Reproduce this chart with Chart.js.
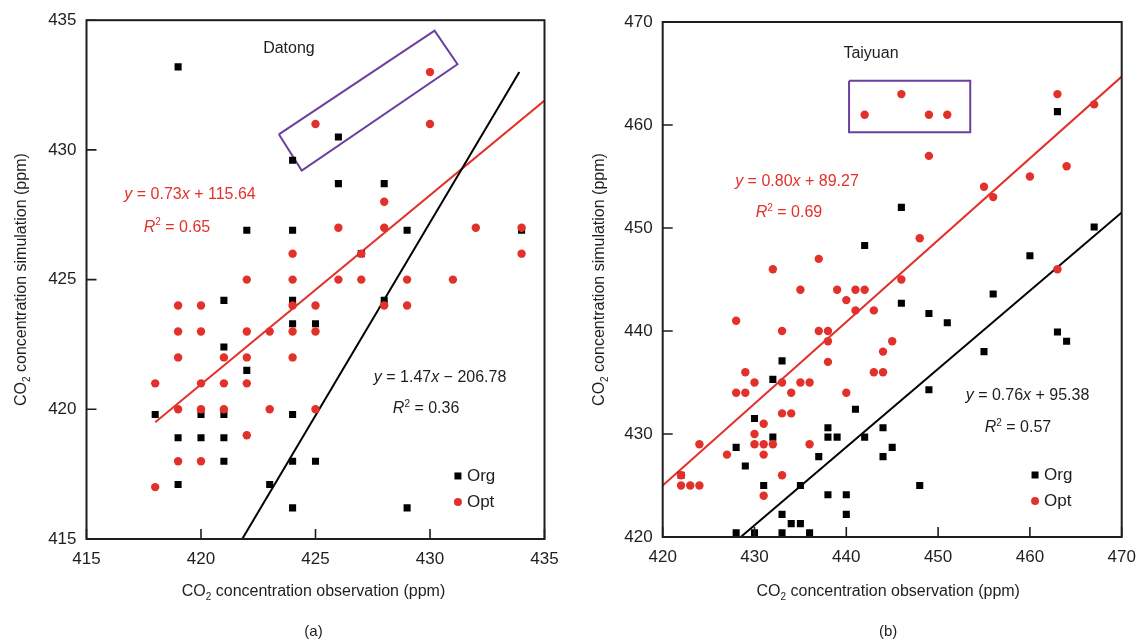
<!DOCTYPE html>
<html>
<head>
<meta charset="utf-8">
<script src="https://cdn.jsdelivr.net/npm/chart.js@4.4.1/dist/chart.umd.min.js"></script>
<style>
  body { margin: 0; background: #fff; overflow: hidden; }
  .panel { position: absolute; top: 0; height: 640px; }
  #panelA { left: 0; width: 568px; }
  #panelB { left: 568px; width: 569px; }
</style>
</head>
<body>
<div class="panel" id="panelA"><canvas id="chartA" width="568" height="640"></canvas></div>
<div class="panel" id="panelB"><canvas id="chartB" width="569" height="640"></canvas></div>
<script>
/* ~~~~~~~~~~ DATA ~~~~~~~~~~ */

// Datong: [observation, simulation]
const datongOrg = [
  [419, 433.2], [424, 429.6], [426, 430.5], [426, 428.7], [428, 428.7],
  [422, 426.9], [424, 426.9], [429, 426.9], [434, 426.9], [427, 426.0],
  [421, 424.2], [424, 424.2], [428, 424.2], [424, 423.3], [425, 423.3],
  [421, 422.4], [422, 421.5], [418, 419.8], [420, 419.8], [421, 419.8],
  [424, 419.8], [419, 418.9], [420, 418.9], [421, 418.9], [421, 418.0],
  [424, 418.0], [425, 418.0], [419, 417.1], [423, 417.1], [424, 416.2],
  [429, 416.2]
];
const datongOpt = [
  [430, 433], [425, 431], [430, 431], [428, 428], [426, 427], [428, 427],
  [432, 427], [434, 427], [424, 426], [427, 426], [434, 426], [422, 425],
  [424, 425], [426, 425], [427, 425], [429, 425], [431, 425], [419, 424],
  [420, 424], [424, 424], [425, 424], [428, 424], [429, 424], [419, 423],
  [420, 423], [422, 423], [423, 423], [424, 423], [425, 423], [419, 422],
  [421, 422], [422, 422], [424, 422], [418, 421], [420, 421], [421, 421],
  [422, 421], [419, 420], [420, 420], [421, 420], [423, 420], [425, 420],
  [422, 419], [419, 418], [420, 418], [418, 417]
];
const datongOrgFit = [[421.8, 415], [433.9, 433.0]];
const datongOptFit = [[418, 419.5], [435, 431.9]];
const datongBox = [[423.4, 430.6], [430.2, 434.6], [431.2, 433.3], [424.4, 429.2], [423.4, 430.6]];

// Taiyuan: [observation, simulation]
const taiyuanOrg = [
  [463, 461.3], [446, 452.0], [442, 448.3], [467, 450.1], [460, 447.3],
  [456, 443.6], [446, 442.7], [449, 441.7], [451, 440.8], [463, 439.9],
  [464, 439.0], [455, 438.0], [433, 437.1], [432, 435.3], [449, 434.3],
  [430, 431.5], [441, 432.4], [438, 430.6], [444, 430.6], [438, 429.7],
  [439, 429.7], [442, 429.7], [432, 429.7], [445, 428.7], [428, 428.7],
  [437, 427.8], [444, 427.8], [429, 426.9], [422, 426.0], [431, 425.0],
  [435, 425.0], [448, 425.0], [438, 424.1], [440, 424.1], [433, 422.2],
  [440, 422.2], [434, 421.3], [435, 421.3], [428, 420.4], [430, 420.4],
  [433, 420.4], [436, 420.4]
];
const taiyuanOpt = [
  [442, 461], [446, 463], [449, 461], [451, 461], [463, 463], [467, 462],
  [449, 457], [464, 456], [460, 455], [455, 454], [456, 453], [448, 449],
  [446, 445], [463, 446], [432, 446], [437, 447], [435, 444], [439, 444],
  [441, 444], [442, 444], [440, 443], [441, 442], [443, 442], [428, 441],
  [433, 440], [437, 440], [438, 440], [438, 439], [445, 439], [444, 438],
  [438, 437], [429, 436], [443, 436], [444, 436], [430, 435], [433, 435],
  [435, 435], [436, 435], [428, 434], [429, 434], [434, 434], [440, 434],
  [433, 432], [434, 432], [431, 431], [430, 430], [430, 429], [431, 429],
  [432, 429], [436, 429], [424, 429], [427, 428], [431, 428], [433, 426],
  [422, 426], [431, 424], [422, 425], [423, 425], [424, 425]
];
const taiyuanOrgFit = [[428.5, 420], [470, 451.5]];
const taiyuanOptFit = [[420, 425.0], [470, 464.7]];
const taiyuanBox = [[440.3, 464.3], [453.5, 464.3], [453.5, 459.3], [440.3, 459.3], [440.3, 464.3]];

/* ~~~~~~~~~~ STYLE ~~~~~~~~~~ */

const FONT = '"Liberation Sans", Arial, sans-serif';
const RED = '#e2312b';
const INK = '#1e1e1e';
const PURPLE = '#6b3fa0';

Chart.defaults.font.family = FONT;

const toPts = (arr) => arr.map(([x, y]) => ({ x, y }));

// draw text made of [text, style] parts, centred on x
function richText(ctx, parts, x, y, size, color) {
  const fontFor = (s) => (s === 'i' ? 'italic ' : '') +
    (s === 'sup' || s === 'sub' ? Math.round(size * 0.62) : size) + 'px ' + FONT;
  let w = 0;
  parts.forEach(([t, s]) => { ctx.font = fontFor(s); w += ctx.measureText(t).width; });
  let cx = x - w / 2;
  ctx.fillStyle = color;
  ctx.textBaseline = 'middle';
  ctx.textAlign = 'left';
  parts.forEach(([t, s]) => {
    ctx.font = fontFor(s);
    const dy = s === 'sup' ? -size * 0.32 : s === 'sub' ? size * 0.3 : 0;
    ctx.fillText(t, cx, y + dy);
    cx += ctx.measureText(t).width;
  });
}

const eq = (a, b) => [['y', 'i'], [' = ' + a, ''], ['x', 'i'], [' ' + b, '']];
const r2 = (v) => [['R', 'i'], ['2', 'sup'], [' = ' + v, '']];

const decor = (o) => ({
  id: 'decor',
  afterDatasetsDraw(chart) {
    const { ctx, chartArea: a, scales: { x, y } } = chart;
    ctx.save();
    ctx.strokeStyle = INK;
    ctx.lineWidth = 2;
    ctx.strokeRect(a.left, a.top, a.right - a.left, a.bottom - a.top);
    ctx.lineWidth = 1.6;
    ctx.beginPath();
    x.ticks.forEach(t => {
      const px = x.getPixelForValue(t.value);
      ctx.moveTo(px, a.bottom); ctx.lineTo(px, a.bottom - 10);
    });
    y.ticks.forEach(t => {
      const py = y.getPixelForValue(t.value);
      ctx.moveTo(a.left, py); ctx.lineTo(a.left + 10, py);
    });
    ctx.stroke();
    ctx.restore();
  },
  afterDraw(chart) {
    const { ctx, chartArea: a, scales: { x, y } } = chart;
    ctx.save();
    o.texts.forEach(t => {
      richText(ctx, t.parts, x.getPixelForValue(t.at[0]), y.getPixelForValue(t.at[1]), 16, t.color);
    });

    // legend
    const lx = x.getPixelForValue(o.legend[0]);
    const ly = y.getPixelForValue(o.legend[1]);
    ctx.fillStyle = '#000';
    ctx.fillRect(lx - 3.5, ly - 3.5, 7, 7);
    ctx.fillStyle = RED;
    ctx.beginPath();
    ctx.arc(lx, ly + 26, 4, 0, Math.PI * 2);
    ctx.fill();
    ctx.fillStyle = INK;
    ctx.font = '17px ' + FONT;
    ctx.textAlign = 'left';
    ctx.textBaseline = 'middle';
    ctx.fillText('Org', lx + 9, ly);
    ctx.fillText('Opt', lx + 9, ly + 26);

    // axis titles and caption
    const midX = (a.left + a.right) / 2;
    richText(ctx, [['CO', ''], ['2', 'sub'], [' concentration observation (ppm)', '']],
      midX + o.xTitleShift, 592, 16, INK);
    ctx.save();
    ctx.translate(o.yTitleX, (a.top + a.bottom) / 2);
    ctx.rotate(-Math.PI / 2);
    richText(ctx, [['CO', ''], ['2', 'sub'], [' concentration simulation (ppm)', '']], 0, 0, 16, INK);
    ctx.restore();
    richText(ctx, [[o.caption, '']], midX + o.xTitleShift, 632, 15, INK);
    ctx.restore();
  }
});

function buildPanel(id, cfg) {
  const ctx = document.getElementById(id).getContext('2d');
  return new Chart(ctx, {
    type: 'scatter',
    data: {
      datasets: [
        { label: 'Opt', data: toPts(cfg.opt), pointStyle: 'circle', pointRadius: 4.2,
          backgroundColor: RED, borderColor: RED, borderWidth: 0, order: 0 },
        { label: 'Org', data: toPts(cfg.org), pointStyle: 'rect', pointRadius: 5,
          backgroundColor: '#000', borderColor: '#000', borderWidth: 0, order: 1 },
        { label: 'Org fit', data: toPts(cfg.orgFit), showLine: true, pointRadius: 0,
          borderColor: '#000', borderWidth: 2, order: 2 },
        { label: 'Opt fit', data: toPts(cfg.optFit), showLine: true, pointRadius: 0,
          borderColor: RED, borderWidth: 2, order: 2 },
        { label: 'Box', data: toPts(cfg.box), showLine: true, pointRadius: 0,
          borderColor: PURPLE, borderWidth: 2, order: 3 }
      ]
    },
    options: {
      responsive: false,
      animation: false,
      layout: { padding: cfg.padding },
      plugins: { legend: { display: false }, tooltip: { enabled: false } },
      scales: {
        x: {
          type: 'linear', min: cfg.xRange[0], max: cfg.xRange[1],
          ticks: { stepSize: cfg.step, color: INK, font: { size: 17 }, padding: 10 },
          grid: { display: false, drawTicks: false },
          border: { display: false },
          afterFit(s) { s.height = cfg.xHeight; s.paddingRight = 0; s.paddingLeft = 0; }
        },
        y: {
          type: 'linear', min: cfg.yRange[0], max: cfg.yRange[1],
          ticks: { stepSize: cfg.step, color: INK, font: { size: 17 }, padding: 10 },
          grid: { display: false, drawTicks: false },
          border: { display: false },
          afterFit(s) { s.width = cfg.yWidth; }
        }
      }
    },
    plugins: [decor(cfg.decor)]
  });
}

buildPanel('chartA', {
  org: datongOrg, opt: datongOpt, orgFit: datongOrgFit, optFit: datongOptFit, box: datongBox,
  xRange: [415, 435], yRange: [415, 435], step: 5,
  padding: { left: 0, right: 23.5, top: 20, bottom: 0 }, yWidth: 86.5, xHeight: 101,
  decor: {
    texts: [
      { at: [423.84, 433.92], parts: [['Datong', '']], color: INK },
      { at: [419.52, 428.26], parts: eq('0.73', '+ 115.64'), color: RED },
      { at: [418.95, 427.02], parts: r2('0.65'), color: RED },
      { at: [430.44, 421.24], parts: eq('1.47', '\u2212 206.78'), color: INK },
      { at: [429.83, 420.01], parts: r2('0.36'), color: INK }
    ],
    legend: [431.22, 417.43],
    xTitleShift: -2, yTitleX: 22, caption: '(a)'
  }
});

buildPanel('chartB', {
  org: taiyuanOrg, opt: taiyuanOpt, orgFit: taiyuanOrgFit, optFit: taiyuanOptFit, box: taiyuanBox,
  xRange: [420, 470], yRange: [420, 470], step: 10,
  padding: { left: 0, right: 15.3, top: 22, bottom: 0 }, yWidth: 94.7, xHeight: 103,
  decor: {
    texts: [
      { at: [442.69, 466.89], parts: [['Taiyuan', '']], color: INK },
      { at: [434.63, 454.47], parts: eq('0.80', '+ 89.27'), color: RED },
      { at: [433.76, 451.46], parts: r2('0.69'), color: RED },
      { at: [459.74, 433.69], parts: eq('0.76', '+ 95.38'), color: INK },
      { at: [458.70, 430.58], parts: r2('0.57'), color: INK }
    ],
    legend: [460.56, 426.02],
    xTitleShift: -4, yTitleX: 32, caption: '(b)'
  }
});
</script>
</body>
</html>
